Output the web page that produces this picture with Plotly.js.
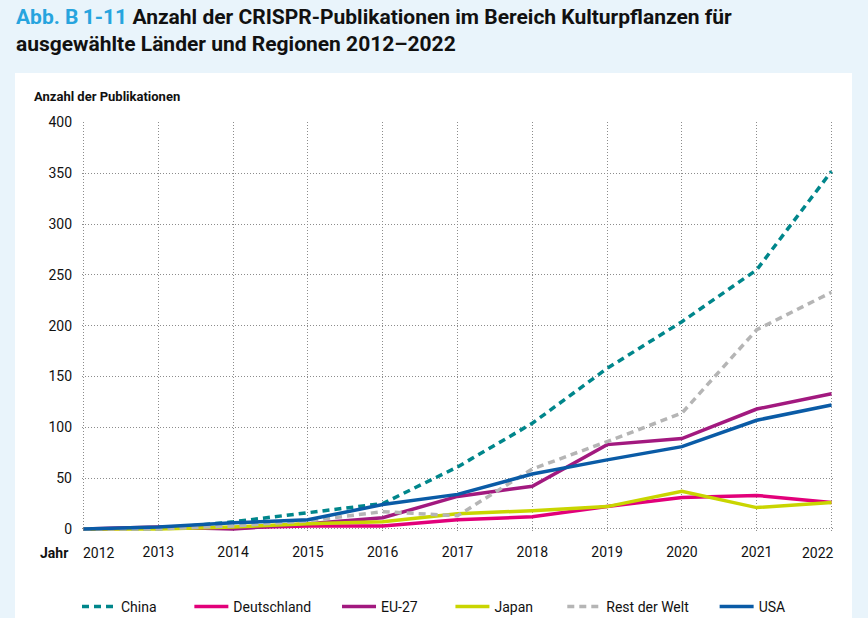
<!DOCTYPE html>
<html>
<head>
<meta charset="utf-8">
<script src="https://cdn.plot.ly/plotly-3.0.1.min.js"></script>
<style>html,body{margin:0;padding:0;background:#e9f4fb;}#chart{width:868px;height:618px;}</style>
</head>
<body>
<div id="chart"></div>
<script>
var years = [2012, 2013, 2014, 2015, 2016, 2017, 2018, 2019, 2020, 2021, 2022];
var yTicks = [0, 50, 100, 150, 200, 250, 300, 350, 400];

var china       = [0, 0, 7, 16, 25, 61, 104, 158, 204, 255, 352];
var deutschland = [0, 1, 1, 3, 3, 9, 12, 22, 31, 33, 26];
var eu27        = [0, 2, 0, 5, 11, 32, 42, 83, 89, 118, 133];
var japan       = [0, 0, 2, 5, 7, 15, 18, 22, 37, 21, 26];
var restWelt    = [0, 0, 3, 8, 17, 13, 59, 86, 114, 196, 233];
var usa         = [0, 2, 6, 9, 24, 34, 54, 68, 81, 107, 122];

var FONT = 'Roboto, sans-serif';
var NB = '\u00a0';
function pad(n){ var s = ''; for (var i = 0; i < n; i++) s += NB; return s; }

function tr(name, y, color, dash, gap) {
  return {x: years, y: y, name: name + pad(gap), type: 'scatter', mode: 'lines',
    line: {color: color, width: 3.5, dash: dash || 'solid'}};
}
var data = [
  tr('China', china, '#00868b', '7px,5px', 8),
  tr('Deutschland', deutschland, '#e2007a', null, 6),
  tr('EU-27', eu27, '#a2197f', null, 8),
  tr('Japan', japan, '#c9d500', null, 7),
  tr('Rest der Welt', restWelt, '#b5b5b5', '7px,5px', 6),
  tr('USA', usa, '#0a5ba6', null, 0)
];

var L = 82, R = 35, T = 122, B = 86, W = 868, H = 618;
var pw = W - L - R, ph = H - T - B;
function px(xp){ return (xp - L) / pw; }
function py(yp){ return (H - B - yp) / ph; }

var xtext = years.map(function(y, i){ return (i === 0 || i === years.length - 1) ? '' : String(y); });

var layout = {
  width: W, height: H,
  paper_bgcolor: '#e9f4fb',
  plot_bgcolor: '#ffffff',
  margin: {l: L, r: R, t: T, b: B, autoexpand: false},
  showlegend: true,
  xaxis: {
    range: [2011.98, 2022.02], tickmode: 'array', tickvals: years, ticktext: xtext,
    showgrid: true, gridcolor: '#8c8c8c', griddash: '1px,2px', gridwidth: 1,
    zeroline: false, showline: false, ticks: '',
    ticklabelstandoff: 10, automargin: false,
    tickfont: {family: FONT, size: 14, color: '#111111'}
  },
  yaxis: {
    range: [-3, 400.5], tickmode: 'array', tickvals: yTicks,
    showgrid: true, gridcolor: '#8c8c8c', griddash: '1px,2px', gridwidth: 1,
    zeroline: false, showline: false, ticks: '',
    ticklabelstandoff: 9, automargin: false,
    tickfont: {family: FONT, size: 14, color: '#111111'}
  },
  legend: {
    orientation: 'h', x: px(77), xanchor: 'left', y: py(591), yanchor: 'top',
    font: {family: FONT, size: 14, color: '#111111'},
    bgcolor: 'rgba(0,0,0,0)', itemwidth: 34
  },
  shapes: [{
    type: 'rect', xref: 'paper', yref: 'paper', layer: 'below',
    x0: px(15), x1: px(852), y0: py(640), y1: py(73),
    fillcolor: '#ffffff', line: {width: 0}
  }],
  annotations: [
    {text: '<span style="color:#27a4de">Abb. B\u20091-11</span> Anzahl der CRISPR-Publikationen im Bereich Kulturpflanzen für<br>ausgewählte Länder und Regionen 2012–2022',
      xref: 'paper', yref: 'paper', x: px(14), y: py(3), xanchor: 'left', yanchor: 'top', align: 'left',
      showarrow: false, font: {family: FONT, size: 21, color: '#111111', weight: 'bold'}},
    {text: 'Anzahl der Publikationen', xref: 'paper', yref: 'paper', x: px(32), y: py(97),
      xanchor: 'left', yanchor: 'middle', showarrow: false,
      font: {family: FONT, size: 13, color: '#111111', weight: 'bold'}},
    {text: 'Jahr', xref: 'paper', yref: 'paper', x: px(70), y: py(553),
      xanchor: 'right', yanchor: 'middle', showarrow: false,
      font: {family: FONT, size: 14, color: '#111111', weight: 'bold'}},
    {text: String(years[0]), xref: 'x', yref: 'paper', x: years[0], y: py(553),
      xanchor: 'left', yanchor: 'middle', showarrow: false, xshift: -3,
      font: {family: FONT, size: 14, color: '#111111'}},
    {text: String(years[years.length - 1]), xref: 'x', yref: 'paper', x: years[years.length - 1], y: py(553),
      xanchor: 'right', yanchor: 'middle', showarrow: false, xshift: 4,
      font: {family: FONT, size: 14, color: '#111111'}}
  ]
};

Plotly.newPlot('chart', data, layout, {displayModeBar: false, staticPlot: true});
</script>
</body>
</html>
